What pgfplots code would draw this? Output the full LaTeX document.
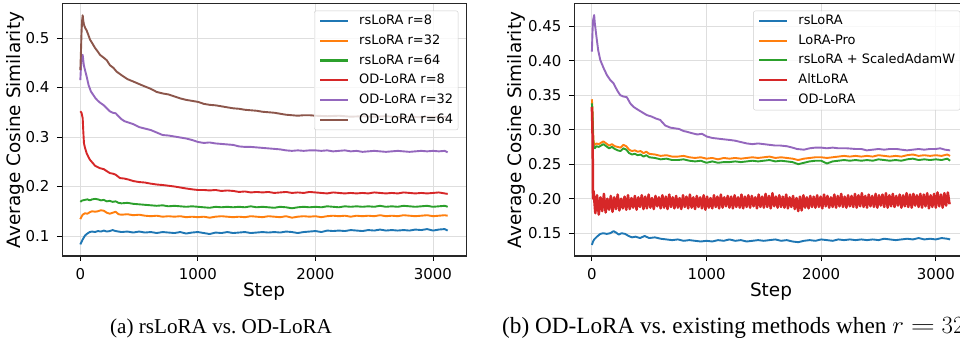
\documentclass[border=0pt]{standalone}
\usepackage{fontspec}
\setmainfont{DejaVu Sans}
\newfontfamily\capfont{Liberation Serif}
\usepackage{graphicx}
\usepackage{pgfplots}
\pgfplotsset{compat=1.18}
\definecolor{tBlue}{HTML}{1F77B4}
\definecolor{tOrange}{HTML}{FF7F0E}
\definecolor{tGreen}{HTML}{2CA02C}
\definecolor{tRed}{HTML}{D62728}
\definecolor{tPurple}{HTML}{9467BD}
\definecolor{tBrown}{HTML}{8C564B}
\tikzset{ln/.style={line width=1.9bp, line join=round}}
\pgfplotsset{
  common/.style={
    scale only axis, height=252bp,
    xmin=-156, xmax=3281,
    xtick={0,1000,2000,3000}, xticklabels={0,1000,2000,3000},
    /pgf/number format/assume math mode=true,
    tick label style={font=\fontsize{15}{17}\selectfont, inner sep=0pt},
    xticklabel style={anchor=north, yshift=-7.3bp},
    yticklabel style={anchor=east, xshift=-7.3bp},
    xlabel={Step},
    every axis x label/.style={at={(rel axis cs:0.5,0)}, anchor=center, yshift=-36bp,
      font=\fontsize{18.5}{21}\selectfont, inner sep=0pt},
    tick align=outside, tick pos=left, major tick length=5bp,
    tick style={black, line width=0.8bp},
    axis line style={line width=1bp, black!85},
    grid=major, major grid style={black!13, line width=0.8bp},
    legend image code/.code={\draw[##1, line width=2bp] (0bp,0bp) -- (28bp,0bp);},
    legend style={draw=black!20, rounded corners=2bp, fill=white, fill opacity=0.8, text opacity=1,
      font=\fontsize{13}{15}\selectfont, inner xsep=5bp, inner ysep=3.5bp,
      nodes={inner sep=0pt, text height=10bp, text depth=3bp},
      row sep=6.8bp, column sep=10bp,
      cells={anchor=west},
      at={(1,1)}, anchor=north east, xshift=-7.7bp, yshift=-6.7bp},
    legend cell align=left,
  }
}
\begin{document}
\begin{tikzpicture}[x=1bp,y=1bp]
% ---------------- Left panel ----------------
\begin{axis}[common, at={(62bp,83bp)}, anchor=south west, width=404bp,
  ymin=0.0596, ymax=0.5687,
  ytick={0.1,0.2,0.3,0.4,0.5}, yticklabels={0.1,0.2,0.3,0.4,0.5},
  ylabel={Average Cosine Similarity},
  every axis y label/.style={at={(rel axis cs:0,0.5)}, xshift=-46.2bp, rotate=90, anchor=center,
    font=\fontsize{18.5}{21}\selectfont, inner sep=0pt},
]
\addplot[tBlue, ln] coordinates {(0,0.083)(10,0.088)(20,0.093)(30,0.097)(40,0.101)(60,0.105)(80,0.108)(100,0.109)(125,0.108)(150,0.110)(175,0.109)(200,0.111)(225,0.109)(250,0.110)(275,0.112)(300,0.110)(350,0.108)(400,0.109)(450,0.107)(500,0.109)(550,0.107)(600,0.108)(650,0.106)(700,0.108)(750,0.107)(800,0.106)(850,0.108)(900,0.105)(950,0.107)(1000,0.108)(1050,0.106)(1100,0.104)(1150,0.107)(1200,0.106)(1250,0.108)(1300,0.106)(1350,0.107)(1400,0.108)(1450,0.106)(1500,0.107)(1550,0.108)(1600,0.107)(1650,0.108)(1700,0.107)(1750,0.109)(1800,0.108)(1850,0.106)(1900,0.108)(1950,0.109)(2000,0.110)(2050,0.108)(2100,0.111)(2150,0.110)(2200,0.111)(2250,0.110)(2300,0.112)(2350,0.111)(2400,0.110)(2450,0.112)(2500,0.111)(2550,0.113)(2600,0.111)(2650,0.112)(2700,0.111)(2750,0.112)(2800,0.111)(2850,0.113)(2900,0.112)(2950,0.114)(3000,0.111)(3050,0.113)(3100,0.114)(3125,0.111)};
\addlegendentry{rsLoRA r=8}
\addplot[tOrange, ln] coordinates {(0,0.134)(10,0.139)(20,0.143)(40,0.146)(60,0.145)(80,0.148)(100,0.150)(125,0.149)(150,0.150)(175,0.152)(200,0.151)(225,0.147)(250,0.145)(275,0.147)(300,0.149)(325,0.144)(350,0.143)(400,0.144)(450,0.142)(500,0.143)(550,0.141)(600,0.140)(650,0.141)(700,0.139)(750,0.140)(800,0.139)(850,0.140)(900,0.138)(950,0.139)(1000,0.138)(1050,0.139)(1100,0.137)(1150,0.139)(1200,0.140)(1250,0.139)(1300,0.138)(1350,0.139)(1400,0.138)(1450,0.140)(1500,0.139)(1550,0.138)(1600,0.140)(1650,0.139)(1700,0.138)(1750,0.140)(1800,0.137)(1850,0.139)(1900,0.140)(1950,0.139)(2000,0.140)(2050,0.138)(2100,0.140)(2150,0.141)(2200,0.140)(2250,0.141)(2300,0.139)(2350,0.141)(2400,0.140)(2450,0.141)(2500,0.140)(2550,0.142)(2600,0.140)(2650,0.141)(2700,0.140)(2750,0.142)(2800,0.141)(2850,0.140)(2900,0.141)(2950,0.142)(3000,0.140)(3050,0.141)(3100,0.142)(3125,0.141)};
\addlegendentry{rsLoRA r=32}
\addplot[tGreen, ln] coordinates {(0,0.169)(10,0.171)(20,0.172)(40,0.173)(60,0.174)(80,0.172)(100,0.174)(125,0.175)(150,0.174)(175,0.172)(200,0.173)(225,0.170)(250,0.171)(275,0.169)(300,0.170)(325,0.167)(350,0.166)(400,0.167)(450,0.165)(500,0.164)(550,0.163)(600,0.162)(650,0.161)(700,0.162)(750,0.160)(800,0.161)(850,0.160)(900,0.159)(950,0.160)(1000,0.159)(1050,0.158)(1100,0.157)(1150,0.159)(1200,0.158)(1250,0.159)(1300,0.158)(1350,0.159)(1400,0.158)(1450,0.160)(1500,0.158)(1550,0.159)(1600,0.158)(1650,0.157)(1700,0.159)(1750,0.158)(1800,0.156)(1850,0.158)(1900,0.159)(1950,0.158)(2000,0.159)(2050,0.158)(2100,0.160)(2150,0.159)(2200,0.158)(2250,0.160)(2300,0.159)(2350,0.160)(2400,0.159)(2450,0.160)(2500,0.159)(2550,0.161)(2600,0.159)(2650,0.160)(2700,0.159)(2750,0.161)(2800,0.160)(2850,0.159)(2900,0.160)(2950,0.161)(3000,0.159)(3050,0.160)(3100,0.161)(3125,0.159)};
\addlegendentry{rsLoRA r=64}
\addplot[tRed, ln] coordinates {(0,0.352)(10,0.349)(20,0.338)(25,0.312)(31,0.287)(40,0.278)(54,0.267)(68,0.260)(82,0.254)(100,0.249)(125,0.242)(150,0.239)(167,0.237)(200,0.235)(225,0.231)(252,0.227)(275,0.226)(300,0.224)(337,0.217)(375,0.216)(410,0.214)(451,0.211)(500,0.209)(550,0.208)(593,0.206)(650,0.204)(700,0.203)(735,0.202)(800,0.200)(850,0.198)(900,0.196)(961,0.194)(1000,0.193)(1050,0.193)(1100,0.192)(1150,0.193)(1200,0.191)(1250,0.192)(1302,0.191)(1350,0.189)(1400,0.190)(1450,0.188)(1500,0.189)(1550,0.188)(1600,0.189)(1650,0.187)(1700,0.188)(1750,0.189)(1800,0.187)(1850,0.188)(1900,0.187)(1950,0.189)(2000,0.188)(2050,0.187)(2100,0.186)(2150,0.188)(2200,0.187)(2250,0.186)(2300,0.187)(2350,0.186)(2400,0.187)(2450,0.186)(2500,0.188)(2550,0.187)(2600,0.186)(2650,0.187)(2700,0.186)(2750,0.188)(2800,0.187)(2850,0.186)(2900,0.187)(2950,0.186)(3000,0.187)(3050,0.188)(3100,0.186)(3125,0.185)};
\addlegendentry{OD-LoRA r=8}
\addplot[tPurple, ln] coordinates {(0,0.415)(5,0.440)(10,0.460)(20,0.466)(25,0.455)(30,0.445)(40,0.435)(54,0.422)(70,0.405)(90,0.392)(110,0.385)(130,0.378)(150,0.373)(170,0.369)(200,0.364)(225,0.358)(250,0.352)(275,0.349)(300,0.348)(325,0.342)(350,0.336)(375,0.332)(400,0.330)(450,0.326)(500,0.320)(550,0.317)(600,0.314)(650,0.309)(700,0.304)(750,0.303)(800,0.301)(850,0.299)(900,0.297)(950,0.294)(1000,0.290)(1050,0.288)(1100,0.289)(1150,0.287)(1200,0.286)(1250,0.285)(1300,0.284)(1350,0.281)(1400,0.280)(1450,0.280)(1500,0.279)(1550,0.278)(1600,0.277)(1650,0.276)(1700,0.275)(1750,0.273)(1800,0.272)(1850,0.273)(1900,0.272)(1950,0.273)(2000,0.273)(2050,0.272)(2100,0.273)(2150,0.271)(2200,0.272)(2250,0.273)(2300,0.271)(2350,0.272)(2400,0.270)(2450,0.271)(2500,0.272)(2550,0.271)(2600,0.270)(2650,0.271)(2700,0.272)(2750,0.271)(2800,0.270)(2850,0.271)(2900,0.272)(2950,0.271)(3000,0.272)(3050,0.271)(3100,0.272)(3125,0.269)};
\addlegendentry{OD-LoRA r=32}
\addplot[tBrown, ln] coordinates {(0,0.435)(5,0.470)(10,0.510)(15,0.535)(20,0.546)(25,0.535)(30,0.528)(40,0.521)(54,0.515)(70,0.505)(82,0.497)(100,0.490)(125,0.480)(150,0.472)(167,0.466)(200,0.460)(225,0.455)(252,0.445)(280,0.440)(309,0.432)(350,0.425)(400,0.417)(451,0.412)(500,0.407)(550,0.402)(593,0.398)(650,0.391)(700,0.388)(750,0.386)(800,0.382)(850,0.378)(900,0.375)(950,0.373)(1000,0.371)(1050,0.367)(1100,0.365)(1150,0.364)(1200,0.362)(1250,0.360)(1300,0.358)(1350,0.357)(1400,0.355)(1450,0.354)(1500,0.353)(1550,0.351)(1600,0.350)(1650,0.349)(1700,0.347)(1750,0.345)(1800,0.344)(1850,0.343)(1900,0.344)(1950,0.344)(2000,0.343)(2100,0.342)(2200,0.343)(2300,0.341)(2400,0.342)(2500,0.341)(2600,0.342)(2700,0.340)(2800,0.341)(2900,0.340)(3000,0.341)(3125,0.340)};
\addlegendentry{OD-LoRA r=64}
\end{axis}
% ---------------- Right panel ----------------
\begin{axis}[common, at={(574bp,83bp)}, anchor=south west, width=394bp,
  ymin=0.117, ymax=0.482,
  ytick={0.15,0.20,0.25,0.30,0.35,0.40,0.45}, yticklabels={0.15,0.20,0.25,0.30,0.35,0.40,0.45},
  ylabel={Average Cosine Similarity},
  every axis y label/.style={at={(rel axis cs:0,0.5)}, xshift=-57.3bp, rotate=90, anchor=center,
    font=\fontsize{18.5}{21}\selectfont, inner sep=0pt},
]
\addplot[tBlue, ln] coordinates {(0,0.133)(10,0.138)(20,0.141)(44,0.145)(73,0.149)(100,0.150)(130,0.149)(160,0.150)(189,0.153)(210,0.151)(235,0.148)(260,0.150)(290,0.149)(320,0.146)(350,0.144)(380,0.145)(420,0.143)(460,0.146)(500,0.143)(550,0.144)(600,0.142)(650,0.141)(700,0.140)(750,0.141)(800,0.139)(850,0.140)(900,0.139)(950,0.138)(1000,0.139)(1050,0.138)(1100,0.140)(1150,0.139)(1200,0.141)(1250,0.139)(1300,0.140)(1350,0.138)(1400,0.139)(1450,0.140)(1500,0.139)(1550,0.140)(1600,0.141)(1650,0.139)(1700,0.140)(1750,0.138)(1800,0.137)(1850,0.139)(1900,0.140)(1950,0.139)(2000,0.141)(2050,0.140)(2100,0.139)(2150,0.141)(2200,0.140)(2250,0.141)(2300,0.140)(2350,0.141)(2400,0.140)(2450,0.141)(2500,0.140)(2550,0.142)(2600,0.141)(2650,0.140)(2700,0.141)(2750,0.142)(2800,0.141)(2850,0.143)(2900,0.141)(2950,0.142)(3000,0.141)(3050,0.143)(3100,0.142)(3125,0.141)};
\addlegendentry{rsLoRA}
\addplot[tOrange, ln] coordinates {(0,0.344)(5,0.330)(10,0.300)(15,0.282)(25,0.278)(40,0.280)(60,0.279)(80,0.281)(100,0.283)(125,0.280)(150,0.277)(175,0.279)(200,0.276)(225,0.275)(250,0.274)(275,0.278)(300,0.276)(325,0.271)(350,0.269)(375,0.270)(400,0.268)(425,0.269)(450,0.266)(475,0.268)(500,0.265)(550,0.264)(600,0.262)(650,0.263)(700,0.261)(750,0.261)(800,0.262)(850,0.260)(900,0.259)(950,0.260)(1000,0.258)(1050,0.259)(1100,0.257)(1150,0.259)(1200,0.258)(1250,0.259)(1300,0.258)(1350,0.259)(1400,0.260)(1450,0.259)(1500,0.260)(1550,0.261)(1600,0.259)(1650,0.260)(1700,0.259)(1750,0.258)(1800,0.256)(1850,0.258)(1900,0.259)(1950,0.260)(2000,0.260)(2050,0.259)(2100,0.260)(2150,0.261)(2200,0.262)(2250,0.261)(2300,0.262)(2350,0.261)(2400,0.262)(2450,0.261)(2500,0.263)(2550,0.262)(2600,0.261)(2650,0.262)(2700,0.261)(2750,0.263)(2800,0.264)(2850,0.262)(2900,0.263)(2950,0.262)(3000,0.263)(3050,0.262)(3100,0.264)(3125,0.262)};
\addlegendentry{LoRA-Pro}
\addplot[tGreen, ln] coordinates {(0,0.338)(5,0.322)(10,0.292)(15,0.276)(25,0.273)(40,0.276)(60,0.275)(80,0.277)(100,0.279)(125,0.276)(150,0.273)(175,0.275)(200,0.272)(225,0.270)(250,0.269)(275,0.273)(300,0.271)(325,0.266)(350,0.264)(375,0.265)(400,0.263)(425,0.264)(450,0.261)(475,0.263)(500,0.260)(550,0.259)(600,0.257)(650,0.258)(700,0.256)(750,0.256)(800,0.257)(850,0.255)(900,0.254)(950,0.255)(1000,0.252)(1050,0.254)(1100,0.252)(1150,0.253)(1200,0.253)(1250,0.254)(1300,0.253)(1350,0.254)(1400,0.255)(1450,0.254)(1500,0.255)(1550,0.256)(1600,0.254)(1650,0.255)(1700,0.254)(1750,0.253)(1800,0.250)(1850,0.252)(1900,0.254)(1950,0.255)(2000,0.255)(2050,0.251)(2100,0.254)(2150,0.255)(2200,0.256)(2250,0.255)(2300,0.256)(2350,0.255)(2400,0.256)(2450,0.255)(2500,0.257)(2550,0.256)(2600,0.255)(2650,0.256)(2700,0.255)(2750,0.257)(2800,0.258)(2850,0.256)(2900,0.257)(2950,0.256)(3000,0.257)(3050,0.256)(3100,0.258)(3125,0.255)};
\addlegendentry{rsLoRA + ScaledAdamW}
\addplot[tRed, line width=2.5bp, line join=round] coordinates {(0,0.333)(5,0.300)(8,0.250)(10,0.200)
(15,0.211)(30,0.179)(45,0.205)(60,0.177)(75,0.202)(90,0.182)(105,0.207)(120,0.180)(135,0.200)(150,0.184)
(165,0.204)(180,0.181)(195,0.202)(210,0.185)(225,0.206)(240,0.183)(255,0.200)(270,0.186)(285,0.203)(300,0.184)
(315,0.205)(330,0.185)(345,0.201)(360,0.187)(375,0.204)(390,0.184)(405,0.202)(420,0.188)(435,0.205)(450,0.185)
(465,0.203)(480,0.186)(495,0.206)(510,0.187)(525,0.201)(540,0.185)(555,0.204)(570,0.189)(585,0.202)(600,0.186)
(615,0.205)(630,0.187)(645,0.203)(660,0.185)(675,0.206)(690,0.188)(705,0.202)(720,0.186)(735,0.204)(750,0.187)
(765,0.201)(780,0.185)(795,0.205)(810,0.188)(825,0.203)(840,0.186)(855,0.206)(870,0.187)(885,0.202)(900,0.185)
(915,0.204)(930,0.188)(945,0.202)(960,0.186)(975,0.205)(990,0.184)(1005,0.203)(1020,0.187)(1035,0.201)(1050,0.186)
(1065,0.205)(1080,0.188)(1095,0.203)(1110,0.186)(1125,0.206)(1140,0.187)(1155,0.202)(1170,0.189)(1185,0.204)(1200,0.187)
(1215,0.203)(1230,0.186)(1245,0.205)(1260,0.188)(1275,0.202)(1290,0.187)(1305,0.206)(1320,0.186)(1335,0.203)(1350,0.188)
(1365,0.205)(1380,0.187)(1395,0.204)(1410,0.189)(1425,0.202)(1440,0.186)(1455,0.206)(1470,0.188)(1485,0.203)(1500,0.187)
(1515,0.207)(1530,0.188)(1545,0.204)(1560,0.186)(1575,0.208)(1590,0.189)(1605,0.203)(1620,0.187)(1635,0.205)(1650,0.188)
(1665,0.203)(1680,0.187)(1695,0.206)(1710,0.186)(1725,0.202)(1740,0.188)(1755,0.204)(1770,0.185)(1785,0.201)(1800,0.182)
(1815,0.203)(1830,0.183)(1845,0.205)(1860,0.187)(1875,0.202)(1890,0.186)(1905,0.204)(1920,0.188)(1935,0.203)(1950,0.187)
(1965,0.205)(1980,0.188)(1995,0.203)(2010,0.186)(2025,0.206)(2040,0.189)(2055,0.204)(2070,0.187)(2085,0.202)(2100,0.188)
(2115,0.206)(2130,0.187)(2145,0.204)(2160,0.189)(2175,0.207)(2190,0.188)(2205,0.203)(2220,0.187)(2235,0.205)(2250,0.189)
(2265,0.204)(2280,0.188)(2295,0.207)(2310,0.187)(2325,0.205)(2340,0.189)(2355,0.208)(2370,0.188)(2385,0.204)(2400,0.187)
(2415,0.206)(2430,0.189)(2445,0.204)(2460,0.188)(2475,0.207)(2490,0.187)(2505,0.205)(2520,0.190)(2535,0.206)(2550,0.188)
(2565,0.208)(2580,0.187)(2595,0.205)(2610,0.189)(2625,0.207)(2640,0.188)(2655,0.204)(2670,0.190)(2685,0.206)(2700,0.187)
(2715,0.205)(2730,0.189)(2745,0.208)(2760,0.188)(2775,0.206)(2790,0.187)(2805,0.207)(2820,0.190)(2835,0.205)(2850,0.188)
(2865,0.207)(2880,0.187)(2895,0.206)(2910,0.189)(2925,0.208)(2940,0.186)(2955,0.205)(2970,0.188)(2985,0.207)(3000,0.187)
(3015,0.209)(3030,0.189)(3045,0.206)(3060,0.187)(3075,0.208)(3090,0.190)(3105,0.209)(3120,0.192)};
\addlegendentry{AltLoRA}
\addplot[tPurple, ln] coordinates {(0,0.413)(5,0.440)(10,0.458)(20,0.466)(25,0.455)(38,0.437)(55,0.415)(73,0.401)(100,0.390)(131,0.379)(160,0.372)(189,0.367)(220,0.357)(247,0.350)(275,0.348)(305,0.347)(335,0.338)(363,0.333)(400,0.329)(440,0.325)(480,0.321)(520,0.319)(560,0.316)(596,0.314)(640,0.306)(683,0.303)(720,0.302)(760,0.301)(800,0.298)(828,0.297)(870,0.295)(920,0.293)(960,0.294)(1003,0.290)(1050,0.288)(1100,0.287)(1150,0.286)(1206,0.285)(1250,0.284)(1300,0.282)(1352,0.280)(1400,0.279)(1450,0.280)(1500,0.279)(1550,0.278)(1600,0.277)(1642,0.277)(1700,0.276)(1750,0.274)(1788,0.272)(1850,0.271)(1900,0.273)(1950,0.274)(2000,0.274)(2050,0.273)(2100,0.274)(2150,0.273)(2224,0.273)(2300,0.272)(2350,0.272)(2398,0.270)(2450,0.271)(2500,0.272)(2550,0.271)(2600,0.272)(2660,0.272)(2700,0.271)(2750,0.270)(2800,0.271)(2850,0.272)(2900,0.271)(2950,0.272)(3000,0.272)(3038,0.273)(3080,0.271)(3125,0.270)};
\addlegendentry{OD-LoRA}
\end{axis}
% captions
\node[anchor=base west, inner sep=0pt, font=\capfont\fontsize{21.2}{24}\selectfont] at (110bp,5.7bp) {(a) rsLoRA vs.\ OD-LoRA};
\node[anchor=base west, inner sep=0pt, font=\capfont\fontsize{23.3}{26}\selectfont] at (502bp,5.7bp) {(b) OD-LoRA vs.\ existing methods when $r\mathrel{\scalebox{1.35}[1]{$=$}}32$};
\pgfresetboundingbox
\path[use as bounding box] (0bp,0bp) rectangle (960bp,339bp);
\end{tikzpicture}
\end{document}
